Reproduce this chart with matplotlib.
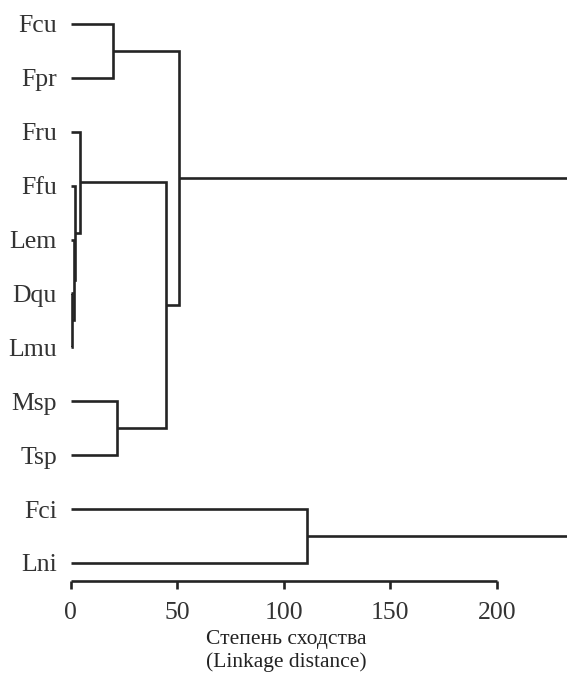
import matplotlib
matplotlib.use('Agg')
import matplotlib.pyplot as plt
from matplotlib.transforms import blended_transform_factory

# Leaves in display order (top to bottom)
leaves = ['Fcu', 'Fpr', 'Fru', 'Ffu', 'Lem', 'Dqu', 'Lmu', 'Msp', 'Tsp', 'Fci', 'Lni']
# Linkage: child a, child b, merge distance (new nodes numbered from len(leaves))
merge_a = [5, 4, 3, 2, 0, 7, 14, 15, 9, 18]
merge_b = [6, 11, 12, 13, 1, 8, 16, 17, 10, 19]
merge_h = [0.6, 1.4, 2.2, 4.5, 20.0, 21.6, 44.7, 50.9, 110.8, 260.0]
x_ticks = [0, 50, 100, 150, 200]
x_label = 'Степень сходства\n(Linkage distance)'

plt.rcParams['font.family'] = ['Liberation Serif', 'DejaVu Serif']
LC = '#242424'

fig = plt.figure(figsize=(5.67, 6.75), dpi=100)
ax = fig.add_axes([0.1247, 0.1393, 0.8753, 0.8607])

pos = {i: (0.0, float(i)) for i in range(len(leaves))}
for k, (a, b, h) in enumerate(zip(merge_a, merge_b, merge_h)):
    xa, ya = pos[a]
    xb, yb = pos[b]
    ax.plot([xa, h, h, xb], [ya, ya, yb, yb], color=LC, lw=1.9,
            solid_joinstyle='miter', solid_capstyle='butt')
    pos[len(leaves) + k] = (h, (ya + yb) / 2)

ax.set_xlim(0, 233)
ax.set_ylim(10.334, -0.445)

for s in ['top', 'right', 'left']:
    ax.spines[s].set_visible(False)
ax.spines['bottom'].set_bounds(0, 200)
ax.spines['bottom'].set_linewidth(1.9)
ax.spines['bottom'].set_color(LC)
ax.spines['bottom'].set_capstyle('butt')

ax.set_xticks(x_ticks)
ax.set_xticklabels([str(t) for t in x_ticks])
ax.tick_params(axis='x', direction='out', length=5.8, width=1.9, color=LC,
               pad=9.5, labelsize=18.5, labelcolor='#333333')
ax.set_yticks(range(len(leaves)))
ax.set_yticklabels(leaves)
ax.tick_params(axis='y', length=0, pad=10, labelsize=18.5, labelcolor='#333333')

trans = blended_transform_factory(ax.transData, fig.transFigure)
ax.text(101, 1 - 667 / 675, x_label, transform=trans, ha='center', va='baseline',
        fontsize=15.5, color='#222222', linespacing=1.2, multialignment='center')

fig.savefig('out.png', dpi=100)
